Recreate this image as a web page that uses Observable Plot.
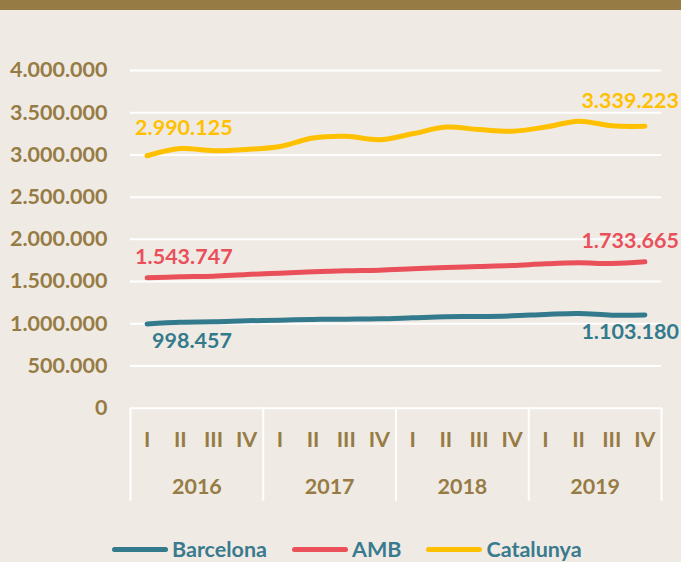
<!DOCTYPE html>
<html><head><meta charset="utf-8">
<script src="https://cdn.jsdelivr.net/npm/d3@7"></script>
<script src="https://cdn.jsdelivr.net/npm/@observablehq/plot@0.6"></script>
<style>
html,body{margin:0;padding:0;background:#EFEBE4;}
body{width:681px;height:562px;position:relative;overflow:hidden;font-family:Lato,"Open Sans",sans-serif;}
#band{height:10px;background:#977B45;border-bottom:0;}
#chart svg{display:block;}
#legend{position:absolute;left:112px;top:538px;display:flex;align-items:center;font-weight:bold;font-size:21.5px;line-height:23px;color:#3A7A8E;}
.item{display:flex;align-items:center;margin-right:25px;}
.sw{width:56px;height:5px;border-radius:3px;margin-right:4px;}
</style></head><body>
<div id="band"></div>
<div id="chart"></div>
<div id="legend"></div>
<script>
const years = ["2016", "2017", "2018", "2019"];
const quarters = ["I", "II", "III", "IV"];
const seriesNames = ["Barcelona", "AMB", "Catalunya"];
const seriesColors = ["#337A8C", "#E9505A", "#FFC000"];
const barcelona = [998457, 1019000, 1023000, 1035000, 1043000, 1051000, 1055000, 1059000, 1071000, 1083000, 1086000, 1094000, 1110000, 1122000, 1102000, 1103180];
const amb = [1543747, 1556000, 1563000, 1584000, 1599000, 1615000, 1627000, 1635000, 1651000, 1667000, 1678000, 1690000, 1710000, 1722000, 1714000, 1733665];
const catalunya = [2990125, 3075000, 3050000, 3065000, 3100000, 3200000, 3220000, 3180000, 3250000, 3330000, 3300000, 3280000, 3330000, 3400000, 3345000, 3339223];
const yTicks = [0, 500000, 1000000, 1500000, 2000000, 2500000, 3000000, 3500000, 4000000];

const brown = "#977B45";
const fmt = d3.formatLocale({decimal: ",", thousands: ".", grouping: [3], currency: ["", ""]}).format(",.0f");

const seriesValues = [barcelona, amb, catalunya];
const rows = [];
seriesNames.forEach((s, k) => seriesValues[k].forEach((v, i) => rows.push({series: s, idx: i, value: v})));
const n = barcelona.length;
const pick = (s, i) => rows.filter(d => d.series === s && d.idx === i);

const label = (s, i, dx, dy, anchor) => Plot.text(pick(s, i), {
  x: "idx", y: "value", text: d => fmt(d.value), fill: "series",
  dx, dy, textAnchor: anchor, lineAnchor: "middle"
});

const separators = years.map((y, k) => 4 * k - 0.5).concat([4 * years.length - 0.5]);
const yearCenters = years.map((y, k) => 4 * k + 1.5);

const chart = Plot.plot({
  width: 681, height: 520,
  marginTop: 60, marginBottom: 122.3, marginLeft: 130, marginRight: 20,
  style: {background: "transparent", fontFamily: "Lato, 'Open Sans', sans-serif", fontWeight: "bold", fontSize: "21.5px", color: brown, overflow: "visible"},
  x: {type: "linear", domain: [-0.5, n - 0.5], axis: null, label: null},
  y: {domain: [0, 4000000], axis: null, label: null},
  color: {domain: seriesNames, range: seriesColors},
  marks: [
    Plot.ruleY(yTicks, {stroke: "white", strokeWidth: 2}),
    Plot.axisY(yTicks, {tickSize: 0, tickPadding: 23, tickFormat: fmt, label: null}),
    Plot.axisX(separators, {tickSize: 93, tickFormat: () => "", stroke: "white", strokeWidth: 2, label: null}),
    Plot.axisX(d3.range(n), {tickSize: 0, tickPadding: 24, tickFormat: i => quarters[i % 4], label: null}),
    Plot.axisX(yearCenters, {tickSize: 0, tickPadding: 71, tickFormat: d => years[(d - 1.5) / 4], label: null}),
    Plot.line(rows, {x: "idx", y: "value", z: "series", stroke: "series", strokeWidth: 5, curve: "catmull-rom", strokeLinecap: "round"}),
    label("Catalunya", 0, -12, -28, "start"),
    label("AMB", 0, -12, -21, "start"),
    label("Barcelona", 0, 5, 17, "start"),
    label("Catalunya", n - 1, 34, -25, "end"),
    label("AMB", n - 1, 34, -21, "end"),
    label("Barcelona", n - 1, 34, 17, "end")
  ]
});
document.getElementById("chart").appendChild(chart);

const legend = document.getElementById("legend");
seriesNames.forEach((s, k) => {
  const item = document.createElement("div");
  item.className = "item";
  const sw = document.createElement("span");
  sw.className = "sw";
  sw.style.background = seriesColors[k];
  const t = document.createElement("span");
  t.textContent = s;
  item.appendChild(sw); item.appendChild(t);
  legend.appendChild(item);
});
</script>
</body></html>
